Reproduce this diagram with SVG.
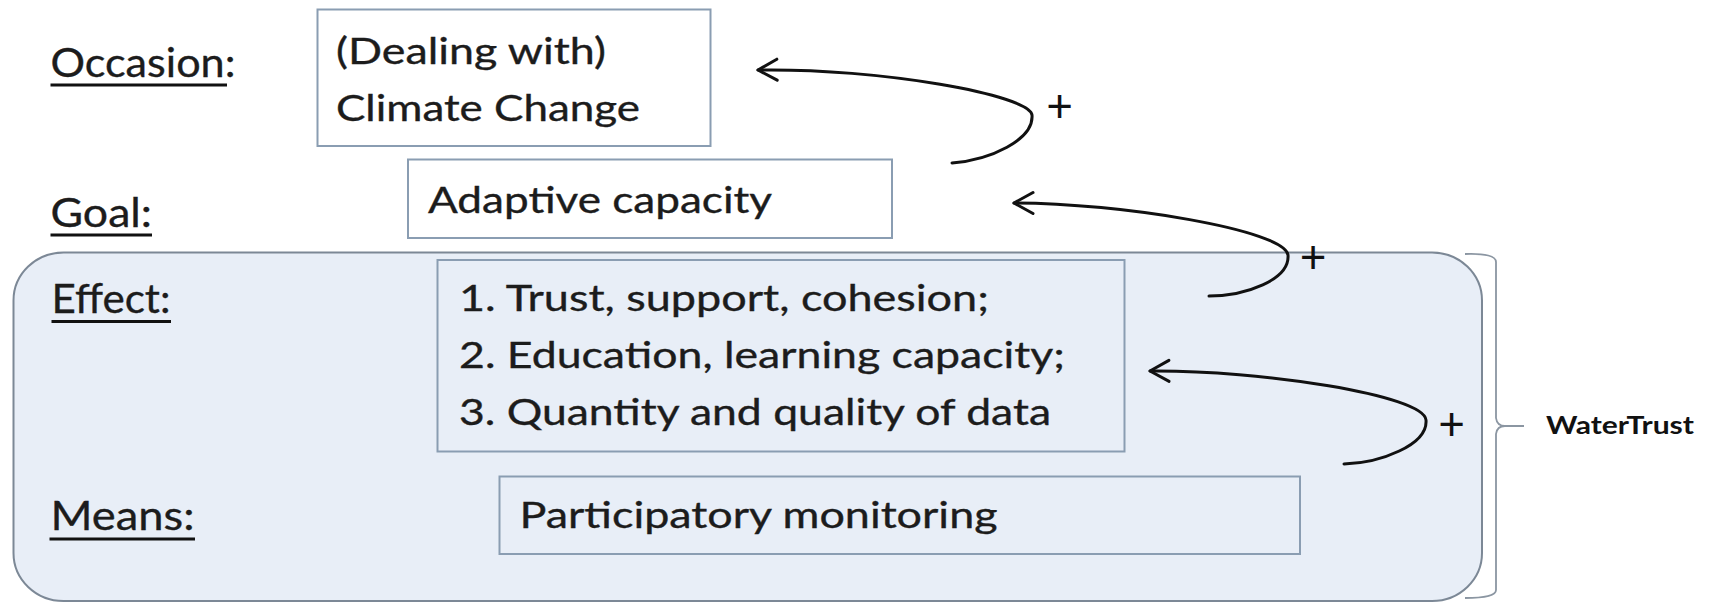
<svg xmlns="http://www.w3.org/2000/svg" width="1709" height="603" viewBox="0 0 1709 603">
  <style>
    .lbl { font-family: Lato, "Open Sans", "Liberation Sans", sans-serif; font-size: 40px; fill: #1c1c1c; stroke: #1c1c1c; stroke-width: 0.35; }
    .txt { font-family: Lato, "Open Sans", "Liberation Sans", sans-serif; font-size: 36px; fill: #1c1c1c; stroke: #1c1c1c; stroke-width: 0.35; }
    .plus { font-family: Lato, "Liberation Sans", sans-serif; font-size: 46px; fill: #111; text-anchor: middle; }
    .wt { font-family: Lato, "Liberation Sans", sans-serif; font-size: 24px; font-weight: bold; fill: #111; }
    .box { fill: none; stroke: #8a9db2; stroke-width: 2; }
    .ul { stroke: #111; stroke-width: 2.8; }
    .arrow { fill: none; stroke: #111; stroke-width: 3; stroke-linecap: round; marker-start: url(#head); }
  </style>
  <defs>
    <marker id="head" markerUnits="userSpaceOnUse" viewBox="-24 -14 28 28" markerWidth="28" markerHeight="28" refX="0" refY="0" orient="auto-start-reverse">
      <polyline points="-19,-10.5 0,0 -19,10.5" fill="none" stroke="#111" stroke-width="3" stroke-linecap="round" stroke-linejoin="round"/>
    </marker>
  </defs>
  <rect width="1709" height="603" fill="#ffffff"/>

  <g id="watertrust-group">
    <rect x="13.5" y="252.5" width="1468.5" height="348.5" rx="50" ry="48" fill="#e8eef7" stroke="#7c8896" stroke-width="2"/>
    <path d="M 1465 254 Q 1496 253 1496 262 L 1496 418 Q 1497 426 1505 426 L 1524 426 M 1505 426 Q 1497 426 1496 434 L 1496 590 Q 1496 598 1465 598" fill="none" stroke="#8b96a2" stroke-width="1.8"/>
    <text class="wt" x="1546" y="434" textLength="148" lengthAdjust="spacingAndGlyphs">WaterTrust</text>
  </g>

  <g id="labels">
    <text class="lbl" x="50.5" y="77" textLength="185" lengthAdjust="spacingAndGlyphs">Occasion:</text>
    <line class="ul" x1="50.5" y1="85" x2="227" y2="85"/>
    <text class="lbl" x="50.5" y="227" textLength="101.5" lengthAdjust="spacingAndGlyphs">Goal:</text>
    <line class="ul" x1="50.5" y1="235" x2="152" y2="235"/>
    <text class="lbl" x="51.5" y="313" textLength="119" lengthAdjust="spacingAndGlyphs">Effect:</text>
    <line class="ul" x1="51.5" y1="321.5" x2="171" y2="321.5"/>
    <text class="lbl" x="50.5" y="530" textLength="144" lengthAdjust="spacingAndGlyphs">Means:</text>
    <line class="ul" x1="49.5" y1="539" x2="195" y2="539"/>
  </g>

  <g id="occasion">
    <rect class="box" x="317.5" y="9.5" width="393" height="136.5"/>
    <text class="txt" x="336" y="63.5" textLength="270" lengthAdjust="spacingAndGlyphs">(Dealing with)</text>
    <text class="txt" x="336" y="120.5" textLength="304" lengthAdjust="spacingAndGlyphs">Climate Change</text>
  </g>

  <g id="goal">
    <rect class="box" x="408" y="159.5" width="484" height="78.5"/>
    <text class="txt" x="428" y="213" textLength="344" lengthAdjust="spacingAndGlyphs">Adaptive capacity</text>
  </g>

  <g id="effect">
    <rect class="box" x="437.5" y="260" width="687" height="191.5"/>
    <text class="txt" x="459" y="311" textLength="530" lengthAdjust="spacingAndGlyphs">1. Trust, support, cohesion;</text>
    <text class="txt" x="459" y="368" textLength="606" lengthAdjust="spacingAndGlyphs">2. Education, learning capacity;</text>
    <text class="txt" x="459" y="425" textLength="592" lengthAdjust="spacingAndGlyphs">3. Quantity and quality of data</text>
  </g>

  <g id="means">
    <rect class="box" x="499.5" y="476.5" width="800.5" height="77.5"/>
    <text class="txt" x="519.5" y="528" textLength="478" lengthAdjust="spacingAndGlyphs">Participatory monitoring</text>
  </g>

  <g id="connectors">
    <path class="arrow" d="M 758 70 C 880 68 1030 95 1032 115 C 1034 140 990 160 952 163"/>
    <text class="plus" x="1059.5" y="122">+</text>
    <path class="arrow" d="M 1014 203 C 1120 203 1285 230 1288 255 C 1290 280 1245 296 1209 296"/>
    <text class="plus" x="1313" y="273">+</text>
    <path class="arrow" d="M 1150 371 C 1260 370 1424 395 1426 420 C 1428 445 1380 463 1344 464"/>
    <text class="plus" x="1451.5" y="440">+</text>
  </g>
</svg>
